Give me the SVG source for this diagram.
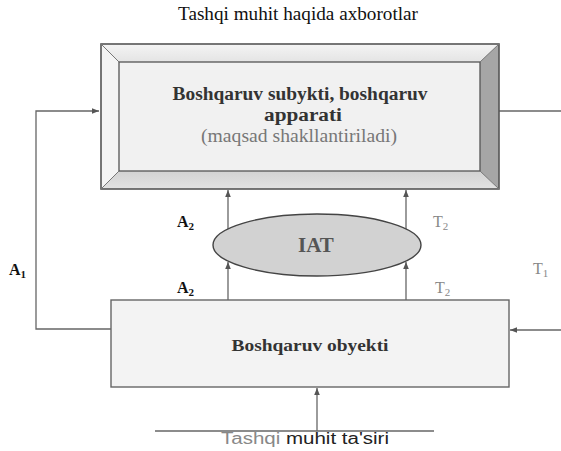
<svg xmlns="http://www.w3.org/2000/svg" width="561" height="451" viewBox="0 0 561 451">
<defs>
<marker id="arr" markerWidth="8" markerHeight="8" refX="7" refY="4" orient="auto" markerUnits="userSpaceOnUse">
<path d="M0,1.2 L7,4 L0,6.8 Z" fill="#555"/>
</marker>
<linearGradient id="bot" x1="0" y1="0" x2="0" y2="1">
<stop offset="0" stop-color="#d2d2d2"/>
<stop offset="1" stop-color="#e2e2e2"/>
</linearGradient>
<linearGradient id="top" x1="0" y1="0" x2="0" y2="1">
<stop offset="0" stop-color="#f4f4f4"/>
<stop offset="1" stop-color="#e4e4e4"/>
</linearGradient>
</defs>
<style>
.ln{fill:none;stroke:#666;stroke-width:1.3}
.serif{font-family:"Liberation Serif","Times New Roman",serif}
.sans{font-family:"Liberation Sans",Arial,sans-serif}
.lbl{font-family:"Liberation Serif","Times New Roman",serif;font-size:16px}
.bev{stroke:#777;stroke-width:1}
</style>
<rect width="561" height="451" fill="#ffffff"/>
<text class="serif" x="298" y="20" font-size="18" fill="#111" text-anchor="middle" textLength="240" lengthAdjust="spacingAndGlyphs">Tashqi muhit haqida axborotlar</text>

<g id="connectors">
<path class="ln" d="M111,329 H36 V111 H99" marker-end="url(#arr)"/>
<path class="ln" d="M495,111 H561"/>
<path class="ln" d="M561,330 H510" marker-end="url(#arr)"/>
<path class="ln" d="M228,300 V262" marker-end="url(#arr)"/>
<path class="ln" d="M228,229 V190" marker-end="url(#arr)"/>
<path class="ln" d="M406,300 V262" marker-end="url(#arr)"/>
<path class="ln" d="M406,229 V190" marker-end="url(#arr)"/>
<path class="ln" d="M317,431 V388" marker-end="url(#arr)"/>
<path class="ln" d="M155,431 H434" stroke="#444"/>
</g>

<g id="subject">
<rect x="101" y="44" width="398" height="145" fill="#ebebeb"/>
<polygon points="101,44 499,44 480,62 119,62" fill="url(#top)"/>
<polygon points="101,44 119,62 119,171 101,189" fill="#f4f4f4"/>
<polygon points="499,44 499,189 480,171 480,62" fill="#a6a6a6"/>
<polygon points="101,189 119,171 480,171 499,189" fill="url(#bot)"/>
<rect x="101" y="44" width="398" height="145" fill="none" stroke="#555" stroke-width="1.6"/>
<rect x="119" y="62" width="361" height="109" fill="#f1f1f1" stroke="#555" stroke-width="1.3"/>
<line class="bev" x1="101" y1="44" x2="119" y2="62"/>
<line class="bev" x1="499" y1="44" x2="480" y2="62"/>
<line class="bev" x1="101" y1="189" x2="119" y2="171"/>
<line class="bev" x1="499" y1="189" x2="480" y2="171"/>
<text class="serif" x="300" y="100" font-size="18" font-weight="bold" fill="#333" text-anchor="middle" textLength="255" lengthAdjust="spacingAndGlyphs">Boshqaruv subykti, boshqaruv</text>
<text class="serif" x="303" y="121" font-size="18" font-weight="bold" fill="#333" text-anchor="middle" textLength="78" lengthAdjust="spacingAndGlyphs">apparati</text>
<text class="serif" x="299" y="142" font-size="18" fill="#777" text-anchor="middle" textLength="196" lengthAdjust="spacingAndGlyphs">(maqsad shakllantiriladi)</text>
</g>

<g id="iat">
<ellipse cx="317" cy="245" rx="104" ry="31" fill="#d2d2d2" stroke="#444" stroke-width="1.4"/>
<text class="serif" x="316" y="252" font-size="21" font-weight="bold" fill="#555" text-anchor="middle">IAT</text>
</g>

<g id="object">
<rect x="111" y="300" width="398" height="87" fill="#f3f3f3" stroke="#666" stroke-width="1.4"/>
<text class="serif" x="310" y="351" font-size="17" font-weight="bold" fill="#333" text-anchor="middle" textLength="157" lengthAdjust="spacingAndGlyphs">Boshqaruv obyekti</text>
</g>

<g id="labels">
<text class="lbl" x="177" y="227" fill="#111" font-weight="bold">A<tspan font-size="11" dy="3">2</tspan></text>
<text class="lbl" x="177" y="293" fill="#111" font-weight="bold">A<tspan font-size="11" dy="3">2</tspan></text>
<text class="lbl" x="433" y="227" fill="#888">T<tspan font-size="11" dy="3">2</tspan></text>
<text class="lbl" x="435" y="293" fill="#888">T<tspan font-size="11" dy="3">2</tspan></text>
<text class="lbl" x="533" y="274" fill="#888">T<tspan font-size="11" dy="3">1</tspan></text>
<text class="lbl" x="9" y="275" fill="#111" font-weight="bold">A<tspan font-size="11" dy="3">1</tspan></text>
</g>

<text class="sans" x="305" y="444" font-size="16" text-anchor="middle" textLength="168" lengthAdjust="spacingAndGlyphs"><tspan fill="#888">Tashqi </tspan><tspan fill="#222">muhit ta'siri</tspan></text>
</svg>
